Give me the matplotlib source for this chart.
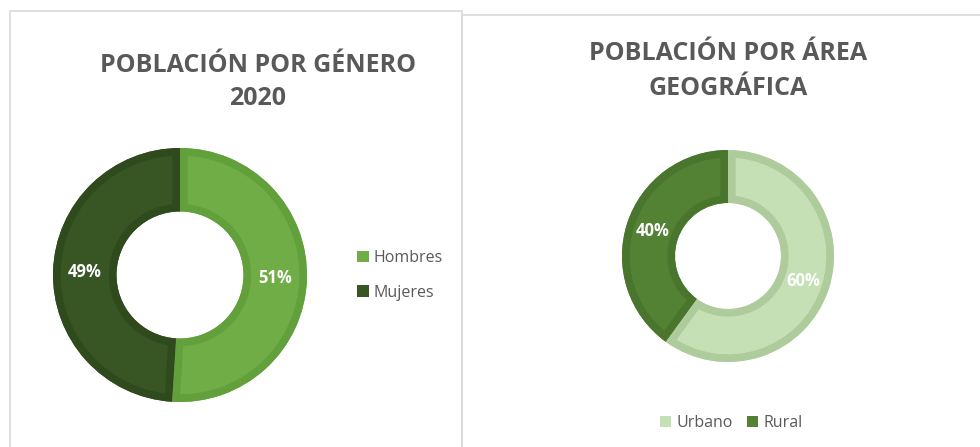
import matplotlib
matplotlib.use("Agg")
import matplotlib.pyplot as plt
from matplotlib.patches import Rectangle, Patch, Wedge

# ---- data ----
gender_labels = ["Hombres", "Mujeres"]
gender_values = [51, 49]
area_labels = ["Urbano", "Rural"]
area_values = [60, 40]

title_left = "POBLACIÓN POR GÉNERO\n2020"
title_right = "POBLACIÓN POR ÁREA\nGEOGRÁFICA"

gender_fill = ["#70AD47", "#375623"]
gender_edge = ["#62A03C", "#2F4B1D"]
area_fill = ["#C5E0B4", "#548235"]
area_edge = ["#AECB9C", "#4A752D"]

W, H = 980, 447
DPI = 100
FONT = "Open Sans"
TXT = "#595959"

fig = plt.figure(figsize=(W / DPI, H / DPI), dpi=DPI)
fig.patch.set_facecolor("white")


def fx(x):
    return x / W


def fy(y):
    return 1 - y / H


# panel borders
fig.patches.append(Rectangle((fx(10), fy(460)), fx(462) - fx(10), fy(11) - fy(460),
                             transform=fig.transFigure, fill=False,
                             edgecolor="#D9D9D9", linewidth=1.2))
fig.patches.append(Rectangle((fx(462), fy(460)), fx(1000) - fx(462), fy(15) - fy(460),
                             transform=fig.transFigure, fill=False,
                             edgecolor="#D9D9D9", linewidth=1.2))


def donut(cx, cy, r, values, fills, edges):
    ax = fig.add_axes([fx(cx - r), fy(cy + r), 2 * r / W, 2 * r / H])
    wedges, _, autotexts = ax.pie(values, colors=fills, startangle=90, counterclock=False,
                                  radius=1.0, autopct="%.0f%%", pctdistance=0.75,
                                  wedgeprops=dict(width=0.5, linewidth=0),
                                  textprops=dict(color="white", fontsize=12,
                                                 fontweight="bold", family=FONT))
    ax.set_xlim(-1, 1)
    ax.set_ylim(-1, 1)
    ax.set_aspect("equal")
    ax.axis("off")
    for w, ec in zip(wedges, edges):
        clip = Wedge(w.center, w.r, w.theta1, w.theta2, width=w.width,
                     transform=ax.transData)
        stroke = Wedge(w.center, w.r, w.theta1, w.theta2, width=w.width,
                       facecolor="none", edgecolor=ec, linewidth=11, zorder=2)
        ax.add_patch(stroke)
        stroke.set_clip_path(clip)
    for t in autotexts:
        t.set_zorder(5)
    return ax


donut(180, 275, 127, gender_values, gender_fill, gender_edge)
donut(728, 256, 106, area_values, area_fill, area_edge)

# titles
fig.text(fx(258), fy(82), title_left, ha="center", va="center", fontsize=18,
         fontweight="bold", color=TXT, family=FONT, linespacing=1.45)
fig.text(fx(728), fy(71), title_right, ha="center", va="center", fontsize=18,
         fontweight="bold", color=TXT, family=FONT, linespacing=1.5)

# legends
h1 = [Patch(facecolor=c, edgecolor="none") for c in gender_fill]
fig.legend(h1, gender_labels, loc="center left", bbox_to_anchor=(fx(357), fy(275.5)),
           frameon=False, borderpad=0, borderaxespad=0, handlelength=0.72,
           handleheight=0.72, handletextpad=0.3, labelspacing=1.15,
           prop=dict(family=FONT, size=11.5), labelcolor=TXT)

h2 = [Patch(facecolor=c, edgecolor="none") for c in area_fill]
fig.legend(h2, area_labels, loc="center", bbox_to_anchor=(fx(731), fy(423)), ncol=2,
           frameon=False, borderpad=0, borderaxespad=0, handlelength=0.72,
           handleheight=0.72, handletextpad=0.3, columnspacing=0.9,
           prop=dict(family=FONT, size=11.5), labelcolor=TXT)

fig.savefig("out.png", dpi=DPI)
